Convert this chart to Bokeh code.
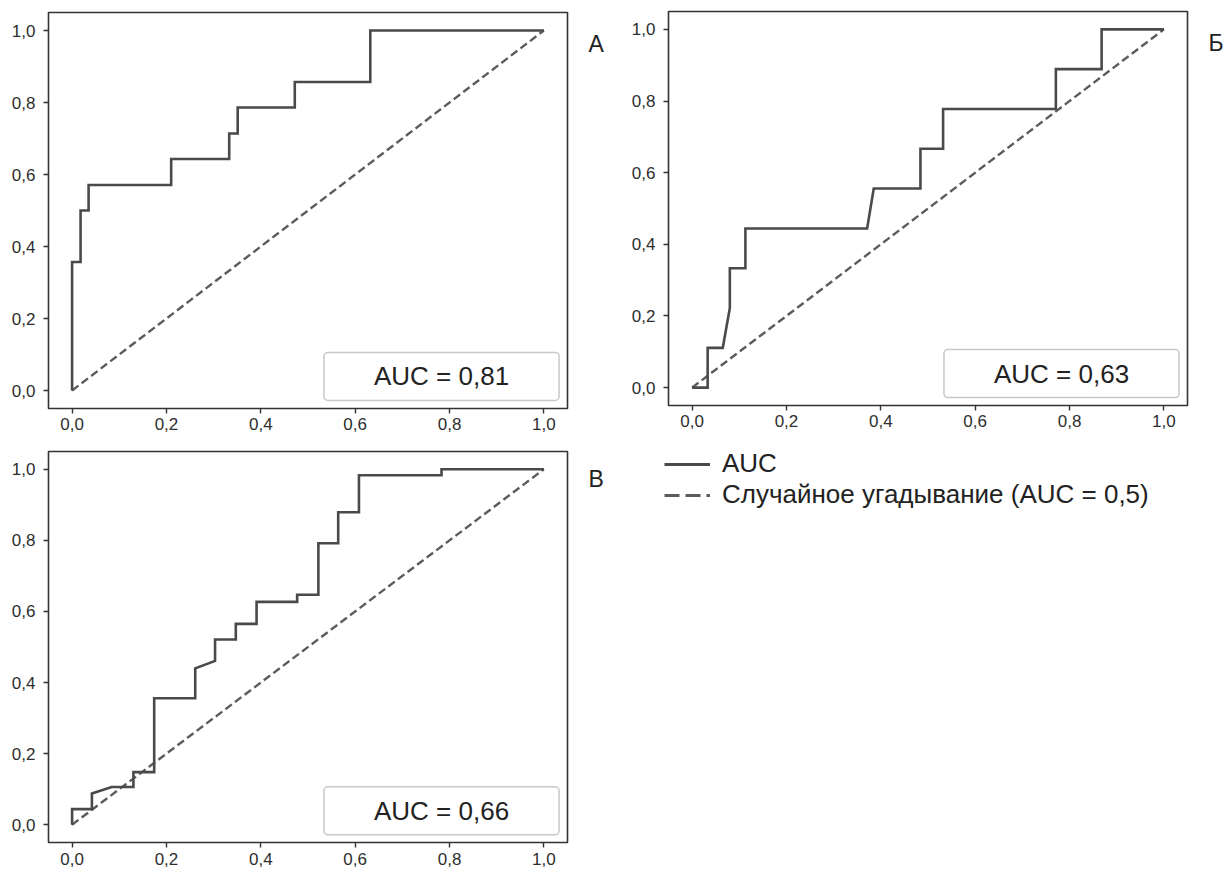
from bokeh.plotting import figure
from bokeh.models import Range1d, FixedTicker, Label
from bokeh.layouts import row, column
from bokeh.embed import file_html
from bokeh.resources import INLINE

# ---- data ----
ticks = [0.0, 0.2, 0.4, 0.6, 0.8, 1.0]
tick_labels = ["0,0", "0,2", "0,4", "0,6", "0,8", "1,0"]

fpr_a = [0, 0, 0.018, 0.018, 0.035, 0.035, 0.21, 0.21, 0.333, 0.333, 0.351, 0.351, 0.472, 0.472, 0.632, 0.632, 1.0]
tpr_a = [0, 0.357, 0.357, 0.5, 0.5, 0.571, 0.571, 0.643, 0.643, 0.714, 0.714, 0.786, 0.786, 0.857, 0.857, 1.0, 1.0]

fpr_b = [0, 0.033, 0.033, 0.065, 0.080, 0.080, 0.113, 0.113, 0.371, 0.385, 0.484, 0.484, 0.532, 0.532, 0.771, 0.771, 0.868, 0.868, 1.0]
tpr_b = [0, 0, 0.111, 0.111, 0.222, 0.333, 0.333, 0.444, 0.444, 0.556, 0.556, 0.667, 0.667, 0.778, 0.778, 0.889, 0.889, 1.0, 1.0]

fpr_c = [0, 0, 0.042, 0.042, 0.084, 0.13, 0.13, 0.174, 0.174, 0.261, 0.261, 0.303, 0.303, 0.347, 0.347, 0.391, 0.391, 0.477, 0.477, 0.522, 0.522, 0.564, 0.564, 0.608, 0.608, 0.783, 0.783, 1.0]
tpr_c = [0, 0.044, 0.044, 0.088, 0.106, 0.106, 0.148, 0.148, 0.356, 0.356, 0.44, 0.461, 0.521, 0.521, 0.565, 0.565, 0.627, 0.627, 0.647, 0.647, 0.792, 0.792, 0.879, 0.879, 0.983, 0.983, 1.0, 1.0]

chance_x = [0.0, 1.0]
chance_y = [0.0, 1.0]

auc_texts = ["AUC = 0,81", "AUC = 0,63", "AUC = 0,66"]
panel_letters = ["А", "Б", "В"]
legend_labels = ["AUC", "Случайное угадывание (AUC = 0,5)"]

FONT = "Liberation Sans"
CURVE = "#4a4a4a"
DASH = "#5c5c5c"
FRAME = "#333333"
TEXT = "#222222"


def make_panel(w, h, mbl, mbr, mbt, mbb, fpr, tpr, auc_text, standoff):
    p = figure(width=w, height=h, x_range=Range1d(-0.05, 1.05), y_range=Range1d(-0.05, 1.05),
               output_backend="svg", toolbar_location=None, tools="",
               min_border_left=mbl, min_border_right=mbr, min_border_top=mbt, min_border_bottom=mbb)
    p.xgrid.visible = False
    p.ygrid.visible = False
    p.outline_line_color = FRAME
    p.outline_line_width = 1.6
    p.background_fill_color = "white"
    p.border_fill_color = "white"
    for ax in p.axis:
        ax.ticker = FixedTicker(ticks=ticks)
        ax.major_label_overrides = dict(zip(ticks, tick_labels))
        ax.axis_line_color = None
        ax.major_tick_out = 5
        ax.major_tick_in = 0
        ax.minor_tick_out = 0
        ax.minor_tick_in = 0
        ax.major_tick_line_color = FRAME
        ax.major_tick_line_width = 1.4
        ax.major_label_text_font = FONT
        ax.major_label_text_font_size = "17px"
        ax.major_label_text_color = "#2e2e2e"
    p.yaxis.major_label_standoff = 8
    p.xaxis.major_label_standoff = standoff

    p.line(chance_x, chance_y, line_color=DASH, line_width=2.4, line_dash="8 4")
    p.line(fpr, tpr, line_color=CURVE, line_width=2.6, line_join="miter")

    p.add_layout(Label(x=0.783, y=0.039, text=auc_text, text_align="center", text_baseline="middle",
                       text_font=FONT, text_font_size="26px", text_color=TEXT,
                       background_fill_color="white", border_line_color="#c8c8c8",
                       border_line_width=1.5, padding=(50, 9), border_radius=4))
    return p


def make_letter(w, h, letter, lx, ly):
    f = figure(width=w, height=h, x_range=Range1d(0, w), y_range=Range1d(h, 0),
               output_backend="svg", toolbar_location=None, tools="",
               x_axis_type=None, y_axis_type=None,
               min_border_left=0, min_border_right=0, min_border_top=0, min_border_bottom=0)
    f.xgrid.visible = False
    f.ygrid.visible = False
    f.outline_line_color = None
    f.add_layout(Label(x=lx, y=ly, text=letter, text_align="left", text_baseline="middle",
                       text_font=FONT, text_font_size="23px", text_color=TEXT))
    return f


pA = make_panel(579, 445, 48, 12, 12, 37, fpr_a, tpr_a, auc_texts[0], 4)
lA = make_letter(49, 445, panel_letters[0], 9, 35)
pB = make_panel(569, 445, 39, 10, 11, 40, fpr_b, tpr_b, auc_texts[1], 4)
lB = make_letter(27, 445, panel_letters[1], 11, 36)
pC = make_panel(579, 425, 48, 12, 6, 28, fpr_c, tpr_c, auc_texts[2], 5)
lC = make_letter(49, 425, panel_letters[2], 9, 30)

# legend panel (proxy lines kept outside its visible range)
pL = figure(width=596, height=425, x_range=Range1d(2, 3), y_range=Range1d(2, 3),
            output_backend="svg", toolbar_location=None, tools="",
            x_axis_type=None, y_axis_type=None,
            min_border_left=36, min_border_right=0, min_border_top=3, min_border_bottom=0)
pL.xgrid.visible = False
pL.ygrid.visible = False
pL.outline_line_color = None
pL.line(chance_x, chance_y, line_color=CURVE, line_width=2.8, legend_label=legend_labels[0])
pL.line(chance_x, chance_y, line_color=DASH, line_width=2.8, line_dash="15 6", legend_label=legend_labels[1])
lg = pL.legend[0]
lg.location = "top_left"
lg.margin = 0
lg.padding = 0
lg.border_line_color = None
lg.background_fill_alpha = 0
lg.label_text_font = FONT
lg.label_text_font_size = "26px"
lg.label_text_color = TEXT
lg.glyph_width = 46
lg.glyph_height = 28
lg.label_height = 28
lg.label_standoff = 12
lg.spacing = -4

layout = row(column(row(pA, lA), row(pC, lC)), column(row(pB, lB), pL))

open("out.html", "w").write(file_html(layout, INLINE))
